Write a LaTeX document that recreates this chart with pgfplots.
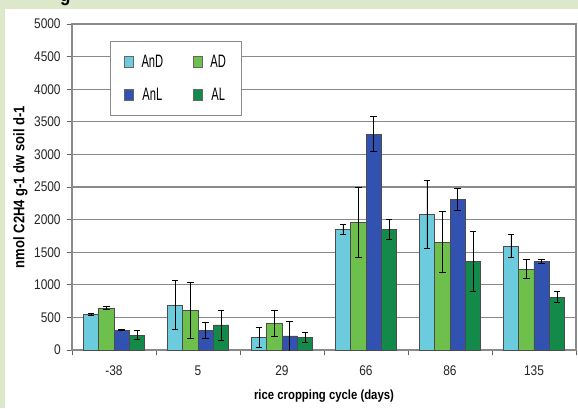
\documentclass[border=0pt]{standalone}
\usepackage{fontspec}
\setmainfont{Liberation Sans}[FakeStretch=0.85]
\newfontfamily\legfont{Liberation Sans}[FakeStretch=0.62]
\usepackage{pgfplots}
\usepackage{pgfplotstable}
\pgfplotsset{compat=1.18}
\definecolor{bgg}{HTML}{DCE8C9}
\definecolor{cAnD}{HTML}{6CCCDE}
\definecolor{cAD}{HTML}{6DC04B}
\definecolor{cAnL}{HTML}{3152B0}
\definecolor{cAL}{HTML}{13894A}
\definecolor{gridc}{HTML}{8A8A8A}

\pgfplotstableread{
x y e
0 550 20
1 690 380
2 195 160
3 1855 75
4 2085 520
5 1595 180
}\tAnD
\pgfplotstableread{
x y e
0 645 20
1 613 430
2 410 200
3 1963 535
4 1656 470
5 1242 150
}\tAD
\pgfplotstableread{
x y e
0 305 10
1 305 120
2 215 230
3 3310 270
4 2310 175
5 1355 30
}\tAnL
\pgfplotstableread{
x y e
0 230 70
1 385 230
2 195 70
3 1850 160
4 1365 460
5 810 85
}\tAL

\begin{document}
\begin{tikzpicture}
\fill[bgg] (0,0) rectangle (433.5pt,306pt);
\fill[white] (3.75pt,0) rectangle (433.5pt,299.25pt);
\clip (0,0) rectangle (433.5pt,306pt);
\node[anchor=base, font=\bfseries\fontsize{15}{15}\selectfont] at (49pt,305pt) {g};
\begin{axis}[
  at={(54pt,43.5pt)}, anchor=south west,
  scale only axis, width=378pt, height=244.5pt,
  ybar=0pt, bar width=11.5pt,
  xmin=-0.5, xmax=5.5, ymin=0, ymax=5000,
  xtick={0,...,5},
  xticklabels={-38,5,29,66,86,135},
  major x tick style={draw=none},
  minor xtick={-0.5,0.5,...,5.5},
  minor x tick style={draw=gridc!70!black, line width=0.6pt},
  minor tick length=4pt,
  ytick={0,500,...,5000},
  major tick length=4pt,
  tick align=outside,
  y tick style={draw=gridc!70!black, line width=0.6pt},
  ymajorgrids,
  grid style={gridc, line width=0.9pt},
  axis line style={gridc, line width=0.9pt},
  xtick pos=bottom, ytick pos=left,
  /pgf/number format/assume math mode=true,
  /pgf/number format/1000 sep={},
  tick label style={font=\fontsize{10.5}{12}\selectfont, text=black!85},
  yticklabel style={xshift=-1pt},
  xticklabel style={yshift=-4pt},
  xlabel={\bfseries rice cropping cycle (days)},
  ylabel={\bfseries nmol C2H4 g-1 dw soil d-1},
  xlabel style={font=\fontsize{10}{11}\selectfont, yshift=-4pt},
  ylabel style={font=\fontsize{11.5}{13}\selectfont, yshift=-2pt},
  legend columns=2,
  legend style={at={(0.075,0.948)}, anchor=north west, draw=gridc, line width=0.8pt,
    fill=white, font=\legfont\fontsize{13.5}{15}\selectfont,
    inner xsep=10pt, inner ysep=8pt, column sep=4pt, row sep=10pt,
    /tikz/every even column/.append style={column sep=20pt}},
  legend image code/.code={\draw[#1, draw=black!60, line width=0.4pt] (0pt,-4pt) rectangle (7pt,4pt);},
  error bars/error bar style={black, line width=0.5pt},
  error bars/error mark options={black, rotate=90, mark size=2.5pt, line width=0.5pt},
]
\addplot[fill=cAnD, draw=black!70, line width=0.4pt, error bars/.cd, y dir=both, y explicit] table[x=x, y=y, y error=e]{\tAnD};
\addplot[fill=cAD, draw=black!70, line width=0.4pt, error bars/.cd, y dir=both, y explicit] table[x=x, y=y, y error=e]{\tAD};
\addplot[fill=cAnL, draw=black!70, line width=0.4pt, error bars/.cd, y dir=both, y explicit] table[x=x, y=y, y error=e]{\tAnL};
\addplot[fill=cAL, draw=black!70, line width=0.4pt, error bars/.cd, y dir=both, y explicit] table[x=x, y=y, y error=e]{\tAL};
\legend{AnD, AD, AnL, AL}
\end{axis}
\end{tikzpicture}
\end{document}
